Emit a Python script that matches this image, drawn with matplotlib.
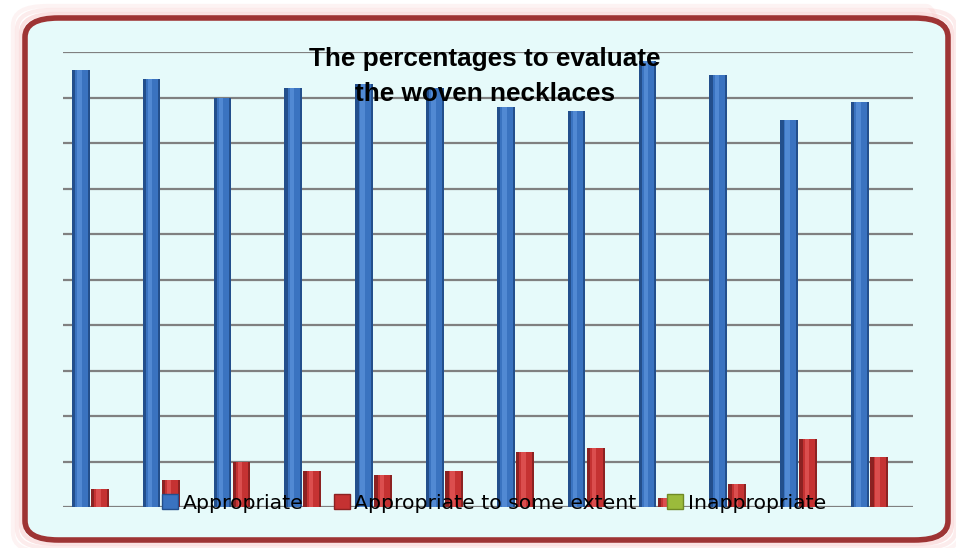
import numpy as np
from matplotlib import pyplot as plt
from matplotlib.patches import FancyBboxPatch, Patch

groups = np.arange(12)
appropriate = [96, 94, 90, 92, 93, 92, 88, 87, 98, 95, 85, 89]
some_extent = [4, 6, 10, 8, 7, 8, 12, 13, 2, 5, 15, 11]
inappropriate = [0, 0, 0, 0, 0, 0, 0, 0, 0, 0, 0, 0]
labels = ["Appropriate", "Appropriate to some extent", "Inappropriate"]
title = "The percentages to evaluate\nthe woven necklaces"

fig = plt.figure(figsize=(9.56, 5.48), dpi=100)
fig.patch.set_facecolor("white")

# frame with pink glow
W, H = 956, 548
for pad, a in [(12, 0.12), (8, 0.2), (4, 0.3)]:
    fig.patches.append(FancyBboxPatch(
        ((25 - pad) / W, (8 - pad) / H), (923 + 2 * pad) / W, (522 + 2 * pad) / H,
        boxstyle="round,pad=0,rounding_size=0.035", transform=fig.transFigure,
        facecolor="none", edgecolor="#f4a0a0", linewidth=3, alpha=a, zorder=-2))
fig.patches.append(FancyBboxPatch(
    (25 / W, 8 / H), 923 / W, 522 / H,
    boxstyle="round,pad=0,rounding_size=0.035", transform=fig.transFigure,
    facecolor="#e6fafa", edgecolor="#9e3434", linewidth=4, zorder=-1))

ax = fig.add_axes([63 / W, 41 / H, 850 / W, 455 / H])
ax.set_zorder(2)
ax.set_facecolor("none")
ax.set_xlim(-0.5, 11.5)
ax.set_ylim(0, 100)
ax.set_yticks(np.arange(0, 101, 10))
ax.grid(axis="y", color="#808080", linewidth=1.6)
ax.set_axisbelow(True)
ax.tick_params(left=False, bottom=False, labelleft=False, labelbottom=False)
for s in ax.spines.values():
    s.set_visible(False)

w = 0.25
series = [(appropriate, -0.25, ["#234f8c", "#3a73c0", "#5b93dc"]),
          (some_extent, 0.02, ["#8c2222", "#c53232", "#e55a5a"]),
          (inappropriate, 0.27, ["#6f8a25", "#9bbb3b", "#bcd86a"])]
for vals, off, cols in series:
    ax.bar(groups + off, vals, w, color=cols[0], zorder=3)
    ax.bar(groups + off + 0.01, vals, w * 0.7, color=cols[1], zorder=3)
    ax.bar(groups + off - 0.02, vals, w * 0.25, color=cols[2], alpha=0.7, zorder=3)

handles = [Patch(facecolor=c, edgecolor=e) for c, e in
           [("#3a73c0", "#234f8c"), ("#c53232", "#8c2222"), ("#9bbb3b", "#6f8a25")]]
ax.legend(handles, labels, ncol=3, loc="lower center", bbox_to_anchor=(0.507, -0.035),
          frameon=False, fontsize=14.7, handlelength=0.8, handleheight=0.8,
          handletextpad=0.2, columnspacing=1.5, borderpad=0)

fig.text(0.507, 0.86, title, ha="center", va="center", fontsize=18.8,
         fontweight="bold", family=["Liberation Sans", "DejaVu Sans"],
         linespacing=1.6, zorder=5)

fig.savefig("out.png", dpi=100)
